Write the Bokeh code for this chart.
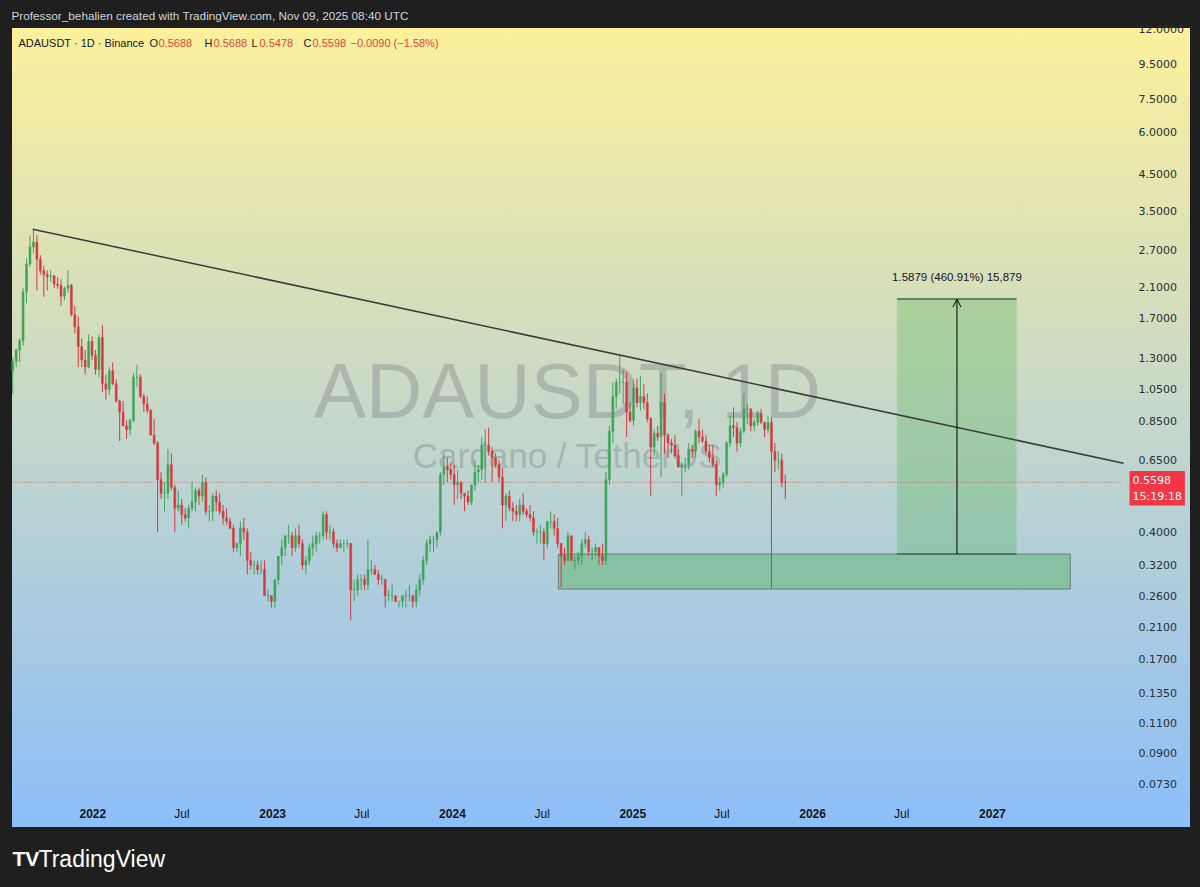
import math
import pandas as pd
from bokeh.plotting import figure
from bokeh.models import (Range1d, LinearAxis, FixedTicker, CustomJSTickFormatter, Label,
                          Arrow, OpenHead, ColumnDataSource, GlobalInlineStyleSheet)
from bokeh.embed import file_html
from bokeh.resources import INLINE

# ---------------- data (weekly OHLC) ----------------
first_open = 1.19
week_start_2021 = "2021-07-19"
highs_2021 = [1.30,1.38,1.48,2.08,2.55,2.97,3.10,2.98,2.60,2.42,2.35,2.35,2.28,2.24,2.21,2.10,2.35,2.14,1.85,1.72,1.48,1.37,1.52,1.50]
lows_2021 = [1.02,1.22,1.26,1.41,1.88,2.41,2.63,2.05,2.28,1.96,2.05,2.17,2.08,2.07,1.85,1.92,2.02,1.72,1.53,1.22,1.22,1.16,1.21,1.28]
closes_2021 = [1.27,1.37,1.46,2.03,2.45,2.75,2.84,2.53,2.34,2.28,2.25,2.26,2.14,2.12,1.97,2.08,2.12,1.74,1.60,1.40,1.28,1.22,1.45,1.32]

week_start_2022 = "2022-01-03"
highs_2022 = [1.37,1.52,1.62,1.16,1.22,1.26,1.12,0.98,0.97,0.85,0.86,1.17,1.24,1.16,1.02,1.00,0.92,0.86,0.74,0.60,0.56,0.70,0.68,0.55,0.53,0.50,0.47,0.48,0.56,0.54,0.54,0.59,0.58,0.48,0.52,0.53,0.52,0.48,0.47,0.44,0.42,0.37,0.43,0.44,0.41,0.35,0.33,0.33,0.33,0.33,0.27,0.26]
lows_2022 = [1.16,1.14,1.03,0.98,1.01,1.08,0.96,0.74,0.82,0.75,0.77,0.84,1.07,0.99,0.90,0.89,0.77,0.72,0.40,0.50,0.46,0.50,0.53,0.40,0.46,0.42,0.43,0.41,0.46,0.46,0.48,0.49,0.45,0.43,0.43,0.46,0.45,0.42,0.42,0.41,0.35,0.35,0.34,0.38,0.30,0.31,0.30,0.30,0.30,0.26,0.25,0.24]
closes_2022 = [1.20,1.49,1.09,1.05,1.19,1.09,0.97,0.90,0.82,0.80,0.85,1.14,1.14,1.00,0.95,0.91,0.77,0.73,0.57,0.52,0.52,0.63,0.54,0.47,0.48,0.45,0.44,0.47,0.49,0.53,0.51,0.56,0.46,0.46,0.51,0.49,0.46,0.44,0.43,0.41,0.36,0.37,0.41,0.40,0.33,0.32,0.32,0.31,0.31,0.26,0.26,0.25]

week_start_2023 = "2023-01-02"
highs_2023 = [0.29,0.34,0.38,0.39,0.42,0.40,0.41,0.42,0.38,0.34,0.37,0.39,0.40,0.40,0.46,0.46,0.42,0.41,0.38,0.38,0.38,0.38,0.37,0.29,0.30,0.30,0.30,0.38,0.33,0.32,0.31,0.30,0.29,0.27,0.28,0.26,0.25,0.26,0.27,0.28,0.26,0.28,0.30,0.34,0.38,0.39,0.39,0.40,0.60,0.68,0.66,0.64]
lows_2023 = [0.24,0.28,0.32,0.34,0.37,0.34,0.35,0.36,0.31,0.30,0.32,0.34,0.35,0.37,0.38,0.38,0.38,0.36,0.35,0.36,0.35,0.36,0.22,0.25,0.26,0.27,0.27,0.27,0.30,0.30,0.28,0.28,0.24,0.25,0.25,0.25,0.24,0.24,0.24,0.25,0.24,0.24,0.26,0.28,0.32,0.35,0.35,0.36,0.39,0.55,0.56,0.57]
closes_2023 = [0.29,0.34,0.36,0.39,0.39,0.36,0.39,0.37,0.32,0.33,0.36,0.37,0.39,0.39,0.45,0.40,0.40,0.37,0.36,0.37,0.37,0.37,0.27,0.27,0.29,0.29,0.28,0.31,0.31,0.30,0.29,0.29,0.26,0.26,0.26,0.25,0.25,0.26,0.26,0.26,0.25,0.27,0.29,0.33,0.37,0.38,0.38,0.40,0.59,0.62,0.61,0.59]

week_start_2024 = "2024-01-01"
highs_2024 = [0.63,0.61,0.56,0.52,0.53,0.55,0.65,0.63,0.76,0.80,0.81,0.71,0.68,0.65,0.62,0.52,0.53,0.49,0.48,0.50,0.52,0.47,0.48,0.46,0.41,0.42,0.41,0.43,0.46,0.45,0.44,0.37,0.36,0.40,0.39,0.34,0.35,0.38,0.40,0.39,0.36,0.37,0.36,0.37,0.60,0.82,1.10,1.13,1.33,1.20,1.18,0.96,1.12]
lows_2024 = [0.48,0.50,0.50,0.46,0.48,0.48,0.53,0.56,0.57,0.56,0.67,0.56,0.62,0.56,0.41,0.43,0.46,0.43,0.43,0.43,0.45,0.44,0.43,0.39,0.37,0.37,0.33,0.36,0.41,0.39,0.36,0.2756,0.32,0.33,0.33,0.31,0.32,0.32,0.36,0.34,0.33,0.34,0.32,0.32,0.32,0.55,0.73,0.92,1.02,0.95,0.76,0.84,0.82]
closes_2024 = [0.55,0.56,0.52,0.51,0.49,0.55,0.60,0.61,0.72,0.72,0.69,0.66,0.63,0.58,0.48,0.51,0.47,0.46,0.45,0.48,0.46,0.45,0.44,0.40,0.40,0.40,0.37,0.43,0.43,0.41,0.37,0.34,0.33,0.39,0.33,0.33,0.34,0.37,0.38,0.35,0.35,0.36,0.34,0.33,0.57,0.79,1.00,1.10,1.10,1.10,0.90,0.85,1.06]

week_start_2025 = "2025-01-06"
highs_2025 = [1.13,1.15,1.09,1.02,0.87,0.80,0.82,1.17,1.02,0.78,0.75,0.77,0.70,0.64,0.66,0.73,0.72,0.80,0.86,0.80,0.77,0.72,0.72,0.65,0.58,0.60,0.74,0.88,0.93,0.84,0.81,1.02,0.95,0.92,0.86,0.91,0.92,0.84,0.88,0.87,0.73,0.69,0.68,0.59]
lows_2025 = [0.93,0.91,0.92,0.84,0.51,0.67,0.74,0.58,0.68,0.66,0.68,0.66,0.62,0.51,0.60,0.61,0.66,0.66,0.73,0.73,0.68,0.64,0.62,0.51,0.53,0.54,0.58,0.71,0.76,0.69,0.71,0.78,0.83,0.79,0.79,0.82,0.83,0.76,0.78,0.274,0.60,0.61,0.54,0.50]
closes_2025 = [0.96,1.00,0.96,0.86,0.71,0.78,0.76,0.96,0.77,0.73,0.72,0.67,0.62,0.63,0.63,0.70,0.69,0.79,0.76,0.74,0.69,0.66,0.63,0.55,0.56,0.59,0.73,0.82,0.81,0.73,0.79,0.92,0.92,0.82,0.84,0.89,0.84,0.80,0.84,0.69,0.65,0.65,0.56,0.5598]

price_ticks = [0.073, 0.09, 0.11, 0.135, 0.17, 0.21, 0.26, 0.32, 0.40, 0.65, 0.85, 1.05,
               1.3, 1.7, 2.1, 2.7, 3.5, 4.5, 6.0, 7.5, 9.5, 12.0]
year_ticks = ["2022-01-01", "2023-01-01", "2024-01-01", "2025-01-01", "2026-01-01", "2027-01-01"]
jul_ticks = ["2022-07-01", "2023-07-01", "2024-07-01", "2025-07-01", "2026-07-01"]

last_price = 0.5598
header_items = ["ADAUSDT \u00b7 1D \u00b7 Binance", "O", "0.5688", "H", "0.5688", "L", "0.5478",
                "C", "0.5598", "\u22120.0090 (\u22121.58%)"]

trend_dates = ["2021-09-01", "2027-09-24"]
trend_prices = [3.10, 0.637]
zone_dates = ["2024-08-03", "2027-06-08"]
zone_prices = [0.272, 0.3445]
target_dates = ["2026-06-21", "2027-02-19"]
target_prices = [0.3445, 1.9324]
arrow_date = "2026-10-21"
target_text = "1.5879 (460.91%) 15,879"

# ---------------- layout geometry (page pixels) ----------------
W, H = 1196, 884
CH_L, CH_R, CH_T, CH_B = 12, 1122, 28, 800          # chart pane in page pixels
chart_left_date, chart_right_date = "2021-07-22", "2027-09-22"
chart_top_price, chart_bottom_price = 12.04, 0.0651

def ms(d):
    return pd.Timestamp(d).value / 1e6

px_per_ms = (CH_R - CH_L) / (ms(chart_right_date) - ms(chart_left_date))
x_start = ms(chart_left_date) - CH_L / px_per_ms
x_end = ms(chart_right_date) + (W - CH_R) / px_per_ms
k = (CH_B - CH_T) / math.log(chart_top_price / chart_bottom_price)
y_max = chart_top_price * math.exp(CH_T / k)
y_min = chart_bottom_price * math.exp(-(H - CH_B) / k)

def sx(px):   # page x -> screen units
    return px

def sy(py):   # page y -> screen units (from bottom)
    return H - py

# ---------------- assemble candles ----------------
dates, highs, lows, closes = [], [], [], []
for start, hh, ll, cc in [(week_start_2021, highs_2021, lows_2021, closes_2021),
                          (week_start_2022, highs_2022, lows_2022, closes_2022),
                          (week_start_2023, highs_2023, lows_2023, closes_2023),
                          (week_start_2024, highs_2024, lows_2024, closes_2024),
                          (week_start_2025, highs_2025, lows_2025, closes_2025)]:
    rng = pd.date_range(start, periods=len(cc), freq="7D") + pd.Timedelta(hours=84)
    dates += list(rng)
    highs += hh
    lows += ll
    closes += cc
opens = [first_open] + closes[:-1]
UP, DOWN = "#3fa457", "#d23c3f"
colors = [UP if c >= o else DOWN for o, c in zip(opens, closes)]
src = ColumnDataSource(dict(
    x=[d.value / 1e6 for d in dates], high=highs, low=lows,
    top=[max(o, c) for o, c in zip(opens, closes)],
    bottom=[min(o, c) for o, c in zip(opens, closes)],
    color=colors))

# ---------------- figure ----------------
p = figure(width=W, height=H, x_axis_type=None, y_axis_type="log",
           y_axis_location="right",
           x_range=Range1d(x_start, x_end), y_range=Range1d(y_min, y_max),
           output_backend="svg", toolbar_location=None,
           min_border_left=0, min_border_right=0, min_border_top=0, min_border_bottom=0)
p.background_fill_alpha = 0
p.border_fill_alpha = 0
p.outline_line_alpha = 0
p.ygrid.visible = False
p.stylesheets = [GlobalInlineStyleSheet(css=(
    "html { background-color: #1f1f1f; "
    "background-image: linear-gradient(to bottom, #fcf09c, #8cbef9); "
    "background-repeat: no-repeat; background-position: 12px 28px; "
    "background-size: 1178px 799px; } "
    "body { margin: 0; background: transparent; overflow: hidden; }"))]

ya = p.yaxis[0]
ya.fixed_location = ms(chart_right_date)
ya.ticker = FixedTicker(ticks=price_ticks)
ya.formatter = CustomJSTickFormatter(code="return tick.toFixed(4);")
ya.axis_line_color = None
ya.major_tick_line_color = None
ya.minor_tick_line_color = None
ya.major_label_text_font = "DejaVu Sans"
ya.major_label_text_font_size = "11px"
ya.major_label_text_color = "#2a2e39"
ya.major_label_standoff = 10

xa = LinearAxis(ticker=FixedTicker(ticks=[ms(d) for d in year_ticks]),
                formatter=CustomJSTickFormatter(code="return String(new Date(tick).getUTCFullYear());"),
                fixed_location=chart_bottom_price)
xa.axis_line_color = None
xa.major_tick_line_color = None
xa.minor_tick_line_color = None
xa.major_label_text_font = "Liberation Sans"
xa.major_label_text_font_style = "bold"
xa.major_label_text_font_size = "12px"
xa.major_label_text_color = "#131722"
xa.major_label_standoff = 2
p.add_layout(xa, "below")

for d in jul_ticks:
    p.add_layout(Label(x=ms(d), y=sy(813), x_units="data", y_units="screen", text="Jul",
                       text_align="center", text_baseline="middle", text_font="Liberation Sans",
                       text_font_size="12px", text_color="#131722"))

# watermark
p.add_layout(Label(x=sx(567), y=sy(390), x_units="screen", y_units="screen", text="ADAUSDT, 1D",
                   text_align="center", text_baseline="middle", text_font="Liberation Sans",
                   text_font_size="78px", text_color="#797d86", text_alpha=0.38, level="underlay"))
p.add_layout(Label(x=sx(567), y=sy(455), x_units="screen", y_units="screen", text="Cardano / TetherUS",
                   text_align="center", text_baseline="middle", text_font="Liberation Sans",
                   text_font_size="35px", text_color="#797d86", text_alpha=0.38, level="underlay"))

# zones
p.quad(left=[ms(zone_dates[0])], right=[ms(zone_dates[1])], bottom=[zone_prices[0]], top=[zone_prices[1]],
       fill_color="#4caf50", fill_alpha=0.4, line_color="#6b7d78", line_width=1)
p.quad(left=[ms(target_dates[0])], right=[ms(target_dates[1])], bottom=[target_prices[0]], top=[target_prices[1]],
       fill_color="#4caf50", fill_alpha=0.3, line_color=None)
p.segment(x0=[ms(target_dates[0])] * 2, x1=[ms(target_dates[1])] * 2, y0=target_prices, y1=target_prices,
          line_color="#3e6b4f", line_width=1.5)

# last price dotted line
p.segment(x0=[ms(chart_left_date)], x1=[ms(chart_right_date)], y0=[last_price], y1=[last_price],
          line_color="#f23645", line_dash="1 2", line_width=1, line_alpha=0.8)

# candles
p.segment(x0="x", y0="low", x1="x", y1="high", line_color="color", line_width=1, source=src)
p.vbar(x="x", width=4 * 86400000, top="top", bottom="bottom", fill_color="color",
       line_color="color", line_width=0.5, source=src)

# trend line
p.line(x=[ms(d) for d in trend_dates], y=trend_prices, line_color="#3b3b3b", line_width=1.5)

# target arrow
p.add_layout(Arrow(end=OpenHead(size=8, line_color="black", line_width=1),
                   x_start=ms(arrow_date), y_start=target_prices[0],
                   x_end=ms(arrow_date), y_end=target_prices[1], line_color="black", line_width=1))
p.add_layout(Label(x=ms(arrow_date), y=target_prices[1], y_offset=22, text=target_text,
                   text_align="center", text_baseline="middle", text_font="Liberation Sans",
                   text_font_size="11.5px", text_color="#131722"))

# current price tag
p.add_layout(Label(x=sx(1129), y=last_price, x_units="screen", y_units="data",
                   text="0.5598\n15:19:18", text_align="left", text_baseline="middle",
                   y_offset=-6, text_font="DejaVu Sans", text_font_size="11px",
                   text_color="white", background_fill_color="#f23645", padding=3))

# header legend
header_x = [18, 149, 158, 204, 213, 251, 259, 303, 312, 350]
header_col = ["#131722", "#131722", "#d9483b", "#131722", "#d9483b", "#131722", "#d9483b",
              "#131722", "#d9483b", "#d9483b"]
for t, xx, cc in zip(header_items, header_x, header_col):
    p.add_layout(Label(x=sx(xx), y=sy(42), x_units="screen", y_units="screen", text=t,
                       text_align="left", text_baseline="middle", text_font="Liberation Sans",
                       text_font_size="11px", text_color=cc))

# top caption and bottom logo
p.add_layout(Label(x=sx(11), y=sy(15), x_units="screen", y_units="screen",
                   text="Professor_behalien created with TradingView.com, Nov 09, 2025 08:40 UTC",
                   text_align="left", text_baseline="middle", text_font="Liberation Sans",
                   text_font_size="11.75px", text_color="#d1d4dc"))
p.add_layout(Label(x=sx(12), y=sy(858), x_units="screen", y_units="screen", text="TV",
                   text_align="left", text_baseline="middle", text_font="Liberation Sans",
                   text_font_style="bold", text_font_size="21px", text_color="white"))
p.add_layout(Label(x=sx(38), y=sy(858), x_units="screen", y_units="screen", text="TradingView",
                   text_align="left", text_baseline="middle", text_font="Liberation Sans",
                   text_font_size="23px", text_color="white"))

open("out.html", "w").write(file_html(p, INLINE))
